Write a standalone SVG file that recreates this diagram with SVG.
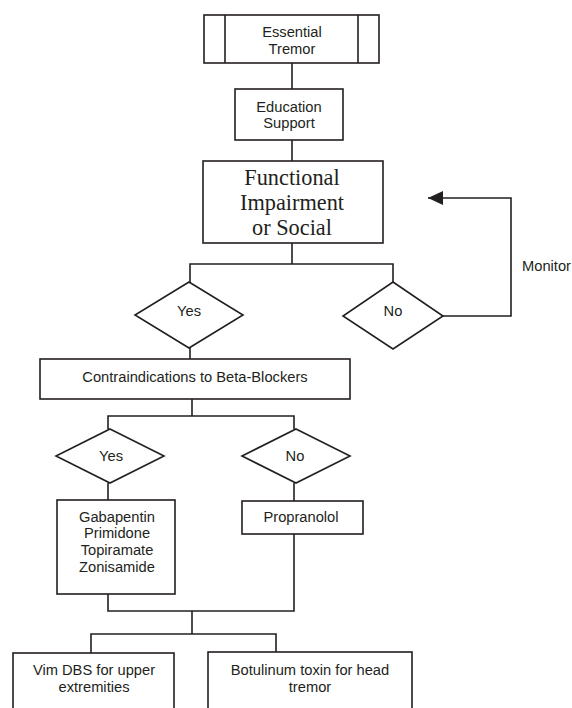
<svg xmlns="http://www.w3.org/2000/svg" width="572" height="708" viewBox="0 0 572 708">
<style>
.b{fill:#fff;stroke:#231f20;stroke-width:1.6}
.c{fill:none;stroke:#231f20;stroke-width:1.6}
.t{font-family:"Liberation Sans",Arial,sans-serif;font-size:14.7px;fill:#231f20;text-anchor:middle}
.s{font-family:"Liberation Serif","Times New Roman",serif;font-size:22.3px;fill:#231f20;text-anchor:middle}
</style>
<defs>
<marker id="ah" markerWidth="16" markerHeight="14" refX="15" refY="7" orient="auto" markerUnits="userSpaceOnUse">
<path d="M0,0 L15,7 L0,14 Z" fill="#231f20"/>
</marker>
</defs>
<rect width="572" height="708" fill="#fff"/>
<g id="connectors">
<line class="c" x1="292" y1="63" x2="292" y2="89"/>
<line class="c" x1="292" y1="140" x2="292" y2="161"/>
<polyline class="c" points="292,243 292,264"/>
<polyline class="c" points="190,282 190,264 393,264 393,282"/>
<line class="c" x1="190" y1="348" x2="190" y2="359"/>
<polyline class="c" points="443,316 511,316 511,198 428,198" marker-end="url(#ah)"/>
<line class="c" x1="192" y1="399" x2="192" y2="416"/>
<polyline class="c" points="108,429 108,416 294,416 294,429"/>
<line class="c" x1="108" y1="483" x2="108" y2="500"/>
<line class="c" x1="294" y1="483" x2="294" y2="501"/>
<polyline class="c" points="108,594 108,611 294,611 294,534"/>
<line class="c" x1="192" y1="611" x2="192" y2="634"/>
<polyline class="c" points="91,653 91,634 276,634 276,652"/>
</g>
<g id="essential-tremor">
<rect class="b" x="204" y="15" width="175" height="48"/>
<line class="c" x1="225" y1="15" x2="225" y2="63"/>
<line class="c" x1="358" y1="15" x2="358" y2="63"/>
<text class="t" x="292" y="37.3">Essential</text>
<text class="t" x="292" y="54.3">Tremor</text>
</g>
<g id="education-support">
<rect class="b" x="235" y="89" width="108" height="51"/>
<text class="t" x="289" y="111.7">Education</text>
<text class="t" x="289" y="128.3">Support</text>
</g>
<g id="functional-impairment">
<rect class="b" x="203" y="161" width="180" height="82"/>
<text class="s" x="292" y="185">Functional</text>
<text class="s" x="292" y="210">Impairment</text>
<text class="s" x="292" y="235">or Social</text>
</g>
<g id="yes-1">
<polygon class="b" points="189,282 243,315 189,348 135,315"/>
<text class="t" x="189" y="316">Yes</text>
</g>
<g id="no-1">
<polygon class="b" points="393,282 443,316 393,349 343,316"/>
<text class="t" x="393" y="316">No</text>
</g>
<g id="monitor-label">
<text class="t" x="522" y="271" style="text-anchor:start">Monitor</text>
</g>
<g id="contraindications">
<rect class="b" x="40" y="359" width="310" height="40"/>
<text class="t" x="195" y="382">Contraindications to Beta-Blockers</text>
</g>
<g id="yes-2">
<polygon class="b" points="110,429 164,456 110,483 56,456"/>
<text class="t" x="111" y="461">Yes</text>
</g>
<g id="no-2">
<polygon class="b" points="296,429 350,456 296,483 242,456"/>
<text class="t" x="295" y="461">No</text>
</g>
<g id="gabapentin">
<rect class="b" x="57" y="500" width="118" height="94"/>
<text class="t" x="117" y="521.7">Gabapentin</text>
<text class="t" x="117" y="538.4">Primidone</text>
<text class="t" x="117" y="555.1">Topiramate</text>
<text class="t" x="117" y="571.8">Zonisamide</text>
</g>
<g id="propranolol">
<rect class="b" x="242" y="501" width="121" height="33"/>
<text class="t" x="301" y="521.7">Propranolol</text>
</g>
<g id="vim-dbs">
<rect class="b" x="13" y="653" width="161" height="70"/>
<text class="t" x="94" y="675">Vim DBS for upper</text>
<text class="t" x="94" y="692">extremities</text>
</g>
<g id="botulinum">
<rect class="b" x="208" y="652" width="204" height="70"/>
<text class="t" x="310" y="675">Botulinum toxin for head</text>
<text class="t" x="310" y="692">tremor</text>
</g>
</svg>
